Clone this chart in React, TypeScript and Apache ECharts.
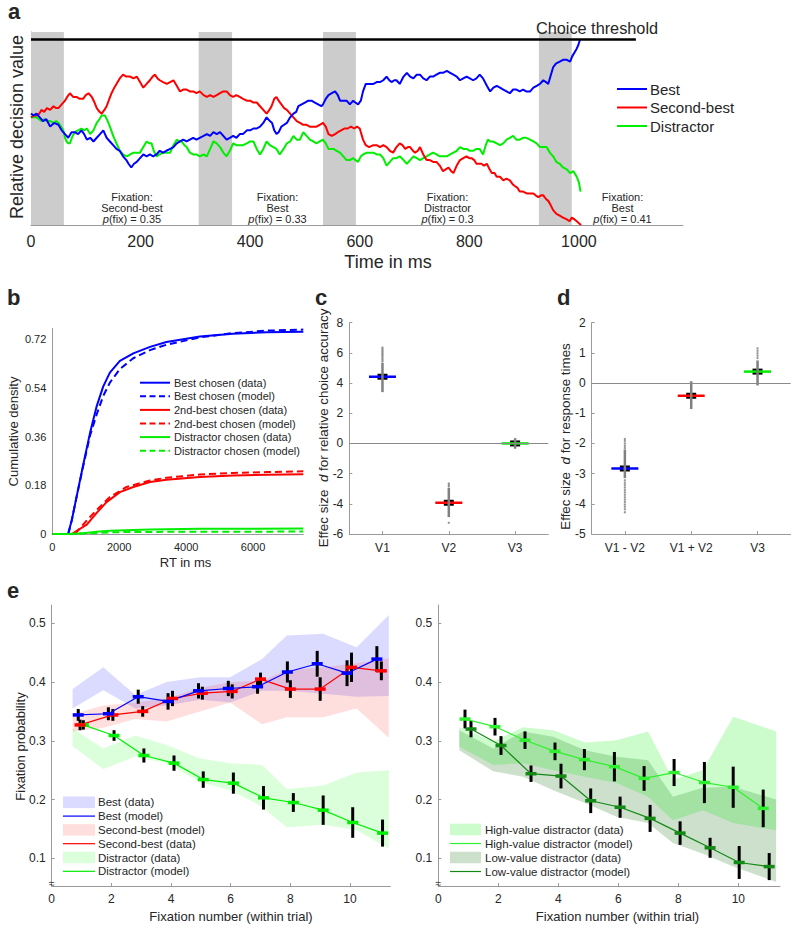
import React, { useEffect, useRef } from "react";
import * as echarts from "echarts";

const FONT = '"Liberation Sans", Arial, Helvetica, sans-serif';
const AXIS_COLOR = "#9a9a9a";
const TEXT_COLOR = "#262626";
const BLUE = "#0000ff";
const RED = "#ff0000";
const GREEN = "#00ee00";

// ---------------- Panel a : example trial ----------------
const aBest: number[][] = [
  [0,0.60],[5,0.59],[10,0.60],[16,0.58],[22,0.56],[28,0.57],[35,0.53],[42,0.55],[50,0.54],[56,0.51],[62,0.49],[68,0.47],[74,0.50],[80,0.50],[86,0.49],[92,0.51],[97,0.49],[102,0.46],[108,0.47],[114,0.45],[120,0.47],[126,0.49],[132,0.51],[138,0.47],[144,0.45],[150,0.43],[156,0.41],[162,0.40],[168,0.37],[174,0.35],[178,0.33],[183,0.31],[188,0.33],[193,0.34],[199,0.36],[205,0.38],[211,0.37],[217,0.38],[223,0.37],[229,0.38],[235,0.40],[241,0.39],[247,0.40],[254,0.41],[260,0.42],[266,0.44],[272,0.45],[278,0.46],[284,0.45],[290,0.46],[296,0.47],[302,0.46],[308,0.47],[315,0.48],[321,0.49],[327,0.48],[333,0.50],[339,0.49],[345,0.50],[351,0.48],[357,0.46],[363,0.47],[369,0.48],[375,0.47],[381,0.49],[387,0.49],[394,0.51],[400,0.51],[406,0.52],[412,0.52],[418,0.53],[424,0.55],[430,0.58],[436,0.56],[440,0.55],[444,0.51],[448,0.49],[452,0.50],[457,0.53],[462,0.54],[467,0.55],[473,0.58],[479,0.60],[484,0.61],[488,0.64],[494,0.65],[500,0.66],[506,0.67],[512,0.67],[518,0.66],[524,0.65],[530,0.64],[533,0.65],[538,0.68],[543,0.70],[549,0.71],[555,0.72],[560,0.70],[564,0.67],[570,0.67],[576,0.67],[582,0.65],[588,0.67],[592,0.66],[597,0.65],[602,0.67],[606,0.72],[611,0.76],[617,0.76],[625,0.76],[631,0.77],[637,0.77],[643,0.78],[649,0.80],[654,0.78],[658,0.77],[663,0.78],[667,0.78],[673,0.76],
  [680,0.80],[686,0.82],[692,0.80],[698,0.79],[704,0.81],[710,0.81],[716,0.79],[722,0.78],[728,0.80],[734,0.80],[740,0.81],[746,0.82],[752,0.82],[759,0.83],[765,0.82],[771,0.81],[777,0.80],[783,0.78],[789,0.79],[795,0.80],[801,0.79],[807,0.78],[813,0.79],[819,0.81],[825,0.79],[832,0.75],[838,0.72],[844,0.74],[850,0.75],[856,0.74],[862,0.73],[868,0.72],[874,0.71],[880,0.73],[886,0.73],[892,0.72],[898,0.73],[904,0.72],[911,0.72],[917,0.74],[923,0.75],[929,0.76],[935,0.78],[940,0.77],[944,0.76],[948,0.80],[953,0.85],[958,0.87],[965,0.88],[971,0.89],[978,0.89],[984,0.88],[988,0.91],[992,0.93],[996,0.95],[999,0.97],[1002,1.0]
];
const aSecond: number[][] = [
  [0,0.58],[5,0.59],[10,0.59],[15,0.60],[19,0.62],[24,0.61],[29,0.63],[35,0.62],[41,0.64],[46,0.63],[50,0.63],[56,0.65],[62,0.67],[66,0.69],[71,0.71],[77,0.69],[83,0.69],[89,0.68],[95,0.68],[100,0.70],[105,0.71],[111,0.69],[116,0.66],[120,0.63],[125,0.61],[129,0.60],[134,0.62],[138,0.64],[143,0.68],[147,0.71],[152,0.74],[156,0.76],[162,0.79],[168,0.81],[174,0.80],[181,0.80],[187,0.79],[193,0.80],[199,0.77],[205,0.74],[211,0.76],[217,0.78],[222,0.80],[226,0.81],[231,0.79],[235,0.78],[241,0.77],[248,0.76],[254,0.77],[260,0.78],[266,0.75],[272,0.72],[278,0.73],[284,0.73],[290,0.72],[296,0.72],[302,0.71],[308,0.72],[315,0.70],[321,0.69],[327,0.70],[333,0.69],[339,0.70],[345,0.71],[351,0.72],[357,0.72],[363,0.70],[369,0.69],[375,0.70],[381,0.69],[387,0.68],[394,0.67],[400,0.67],[406,0.66],[412,0.66],[418,0.64],[424,0.62],[430,0.60],[435,0.62],[439,0.64],[444,0.68],[448,0.69],[452,0.67],[457,0.65],[462,0.63],[467,0.62],[473,0.60],[479,0.58],[485,0.56],[491,0.55],[497,0.54],[503,0.54],[509,0.53],[515,0.53],[521,0.53],[527,0.54],[533,0.55],[538,0.53],[543,0.49],[549,0.48],[555,0.49],[560,0.50],[566,0.51],[572,0.52],[578,0.52],[584,0.53],[590,0.52],[595,0.53],[600,0.52],[606,0.46],[611,0.43],[617,0.42],[625,0.43],[631,0.43],[637,0.42],[643,0.43],[649,0.42],[655,0.40],[661,0.39],[667,0.42],[673,0.44],[678,0.43],[683,0.41],[688,0.42],[692,0.42],[697,0.40],[701,0.39],[706,0.40],[710,0.42],[716,0.38],[722,0.35],[728,0.35],[734,0.34],[740,0.34],[746,0.32],[752,0.29],[757,0.30],[762,0.31],[767,0.29],[771,0.28],[777,0.32],[783,0.35],[789,0.36],[795,0.37],[800,0.36],[804,0.36],[809,0.35],[813,0.33],[818,0.33],[822,0.33],[827,0.32],[832,0.33],[837,0.30],[841,0.28],[846,0.28],[850,0.26],[856,0.26],[862,0.24],[868,0.25],[874,0.24],[879,0.22],[883,0.21],[888,0.20],[892,0.18],[898,0.18],[905,0.17],[911,0.17],[917,0.17],[921,0.16],[926,0.15],[931,0.16],[935,0.16],[940,0.14],[944,0.13],[948,0.11],[953,0.08],[959,0.06],[965,0.05],[971,0.04],[978,0.03],[983,0.02],[987,0.04],[992,0.03],[996,0.02],[1000,0.01],[1004,0.0]
];
const aDistractor: number[][] = [
  [0,0.58],[5,0.58],[10,0.58],[15,0.57],[19,0.56],[24,0.57],[29,0.56],[35,0.56],[41,0.55],[46,0.56],[50,0.55],[55,0.53],[59,0.51],[62,0.47],[65,0.45],[68,0.44],[71,0.44],[76,0.48],[80,0.50],[86,0.51],[92,0.52],[97,0.51],[102,0.52],[108,0.49],[114,0.51],[120,0.55],[125,0.57],[129,0.59],[135,0.59],[140,0.56],[144,0.53],[150,0.48],[156,0.44],[162,0.40],[168,0.38],[175,0.37],[181,0.38],[187,0.39],[193,0.39],[199,0.39],[205,0.42],[211,0.45],[216,0.44],[220,0.44],[224,0.40],[229,0.37],[235,0.38],[241,0.39],[247,0.39],[254,0.39],[260,0.43],[266,0.46],[271,0.45],[275,0.45],[280,0.43],[284,0.42],[290,0.39],[296,0.38],[302,0.38],[308,0.37],[315,0.38],[321,0.37],[327,0.41],[333,0.45],[339,0.44],[345,0.42],[351,0.39],[357,0.37],[363,0.40],[369,0.44],[375,0.43],[381,0.43],[387,0.43],[394,0.44],[400,0.45],[406,0.45],[412,0.41],[418,0.38],[424,0.41],[430,0.45],[436,0.43],[442,0.42],[448,0.41],[454,0.38],[461,0.41],[467,0.44],[473,0.45],[479,0.48],[485,0.46],[491,0.46],[497,0.50],[503,0.48],[509,0.46],[515,0.45],[521,0.44],[527,0.45],[533,0.46],[538,0.44],[543,0.41],[548,0.41],[552,0.41],[558,0.40],[564,0.39],[570,0.37],[576,0.35],[582,0.35],[588,0.36],[592,0.35],[597,0.34],[602,0.37],[606,0.38],[613,0.39],[619,0.39],[625,0.39],[631,0.38],[637,0.38],[643,0.36],[649,0.32],[655,0.34],[661,0.36],[667,0.36],[673,0.37],
  [680,0.35],[686,0.33],[692,0.35],[698,0.37],[704,0.36],[710,0.35],[716,0.36],[722,0.37],[728,0.38],[734,0.39],[740,0.38],[746,0.37],[752,0.37],[759,0.37],[765,0.38],[771,0.39],[777,0.40],[783,0.42],[789,0.41],[795,0.41],[801,0.40],[807,0.40],[813,0.41],[819,0.41],[825,0.38],[830,0.43],[834,0.46],[838,0.45],[843,0.45],[850,0.44],[856,0.43],[862,0.44],[868,0.46],[874,0.47],[880,0.48],[886,0.46],[892,0.46],[898,0.47],[904,0.47],[911,0.46],[917,0.45],[923,0.44],[929,0.42],[935,0.42],[941,0.42],[947,0.39],[953,0.37],[959,0.34],[965,0.33],[971,0.31],[978,0.30],[984,0.28],[990,0.29],[996,0.26],[1000,0.23],[1003,0.18]
];
const aFixStart = [0, 306, 533, 927];
const aFixEnd = [60, 367, 593, 987];
const aThreshold = 1;
const aThresholdEnd = 1104;
const aXMax = 1190;
const aYMax = 1.04;
const aFixTarget = ["Second-best", "Best", "Distractor", "Best"];
const aFixProb = ["0.35", "0.33", "0.3", "0.41"];

// ---------------- Panel b : cumulative RT densities ----------------
const bBestData: number[][] = [[0,0],[470,0],[580,0.05],[730,0.14],[930,0.26],[1130,0.375],[1320,0.47],[1520,0.545],[1720,0.597],[2020,0.64],[2420,0.668],[2920,0.692],[3410,0.71],[4410,0.73],[5400,0.741],[6400,0.746],[7500,0.748]];
const bBestModel: number[][] = [[480,0],[580,0.05],[730,0.14],[930,0.255],[1130,0.365],[1320,0.44],[1520,0.51],[1720,0.56],[2020,0.61],[2420,0.65],[2920,0.68],[3410,0.70],[4410,0.727],[5400,0.743],[6400,0.752],[7500,0.756]];
const bSecondData: number[][] = [[0,0],[580,0],[1030,0.035],[1320,0.077],[1620,0.118],[2020,0.155],[2420,0.174],[2920,0.192],[3410,0.201],[4410,0.211],[5400,0.216],[6400,0.219],[7500,0.221]];
const bSecondModel: number[][] = [[680,0],[1030,0.05],[1320,0.088],[1720,0.137],[2220,0.174],[2920,0.198],[3410,0.208],[4410,0.22],[5400,0.226],[6400,0.229],[7500,0.232]];
const bDistData: number[][] = [[0,0],[500,0],[930,0.003],[1320,0.008],[1720,0.012],[2420,0.015],[2920,0.017],[4410,0.019],[7500,0.02]];
const bDistModel: number[][] = [[480,0],[1320,0.004],[2020,0.007],[3410,0.008],[7500,0.009]];
const bNames = ["Best chosen (data)", "Best chosen (model)", "2nd-best chosen (data)", "2nd-best chosen (model)", "Distractor chosen (data)", "Distractor chosen (model)"];
const bColors = [BLUE, BLUE, RED, RED, GREEN, GREEN];
const bXMax = 7500;
const bYMax = 0.76;

// ---------------- Panels c, d : effect sizes ----------------
const cCats = ["V1", "V2", "V3"];
const cMean = [4.42, -3.93, 0.0];
const cLo = [3.4, -4.88, -0.35];
const cHi = [5.35, -2.95, 0.35];
const cDots: number[][] = [[5.45,5.55,5.65,5.75,5.85,5.95,6.05,6.15,6.25,6.35], [-2.65,-2.75,-2.85,-5.25], []];
const dCats = ["V1 - V2", "V1 + V2", "V3"];
const dMean = [-2.83, -0.42, 0.38];
const dLo = [-3.15, -0.86, -0.08];
const dHi = [-2.2, 0.06, 0.75];
const dDots: number[][] = [[-1.85,-1.92,-2.0,-2.08,-2.15,-3.22,-3.3,-3.38,-3.46,-3.54,-3.62,-3.7,-3.78,-3.86,-3.94,-4.02,-4.1,-4.18,-4.28], [], [0.83,0.91,0.99,1.07,1.15]];
const cdColors = [BLUE, RED, GREEN];

// ---------------- Panel e (left) ----------------
const eBestX = [0.89,1.9,2.9,3.9,4.92,5.92,6.9,7.9,8.9,9.9,10.9];
const eBestY = [0.344,0.346,0.375,0.367,0.385,0.389,0.392,0.417,0.431,0.415,0.439];
const eBestErr = [0.010,0.011,0.012,0.014,0.013,0.013,0.012,0.018,0.022,0.022,0.022];
const eSecX = [0.95,2.05,3.05,4.05,5.05,6.05,7.0,8.0,9.0,10.05,11.05];
const eSecY = [0.327,0.344,0.350,0.372,0.381,0.384,0.405,0.388,0.388,0.425,0.419];
const eSecErr = [0.009,0.010,0.009,0.013,0.011,0.012,0.011,0.015,0.020,0.025,0.016];
const eDistX = [1.06,2.09,3.09,4.1,5.08,6.09,7.1,8.1,9.1,10.09,11.09];
const eDistY = [0.327,0.309,0.275,0.262,0.234,0.228,0.203,0.195,0.182,0.161,0.143];
const eDistErr = [0.008,0.009,0.012,0.013,0.014,0.018,0.020,0.016,0.025,0.026,0.023];
const eBandX = [0.7,1.73,2.8,3.85,4.97,5.98,7.05,7.88,9.1,10.22,11.3];
const eBestUp = [0.388,0.425,0.378,0.400,0.408,0.408,0.439,0.479,0.482,0.459,0.514];
const eBestLo = [0.355,0.386,0.355,0.360,0.370,0.365,0.385,0.385,0.380,0.375,0.376];
const eSecUp = [0.345,0.360,0.365,0.372,0.390,0.400,0.402,0.420,0.425,0.432,0.440];
const eSecLo = [0.316,0.322,0.337,0.333,0.350,0.365,0.328,0.340,0.340,0.355,0.305];
const eDistUp = [0.321,0.287,0.309,0.293,0.270,0.262,0.259,0.218,0.224,0.246,0.250];
const eDistLo = [0.291,0.252,0.273,0.262,0.230,0.216,0.188,0.153,0.157,0.148,0.117];

// ---------------- Panel e (right) ----------------
const eHighX = [0.89,1.89,2.89,3.89,4.87,5.87,6.86,7.86,8.87,9.83,10.83];
const eHighY = [0.337,0.324,0.301,0.282,0.268,0.256,0.236,0.246,0.229,0.221,0.185];
const eHighErr = [0.016,0.015,0.015,0.015,0.018,0.025,0.021,0.023,0.035,0.035,0.032];
const eLowX = [1.09,2.09,3.09,4.09,5.08,6.06,7.06,8.06,9.06,10.03,11.03];
const eLowY = [0.320,0.292,0.244,0.240,0.198,0.187,0.168,0.143,0.118,0.093,0.086];
const eLowErr = [0.014,0.016,0.014,0.021,0.021,0.018,0.023,0.020,0.017,0.028,0.023];
const eRBandX = [0.7,1.83,2.83,3.83,4.89,5.94,6.99,7.82,8.82,9.83,11.26];
const eHighUp = [0.323,0.299,0.323,0.318,0.297,0.301,0.316,0.234,0.250,0.341,0.316];
const eHighLo = [0.290,0.259,0.262,0.250,0.239,0.228,0.205,0.165,0.182,0.160,0.148];
const eLowUp = [0.318,0.287,0.316,0.307,0.284,0.273,0.267,0.205,0.220,0.222,0.200];
const eLowLo = [0.284,0.248,0.239,0.216,0.194,0.171,0.160,0.126,0.108,0.086,0.060];
const eXTicks = [0, 2, 4, 6, 8, 10];
const eYTicks = [0.1, 0.2, 0.3, 0.4, 0.5];
const eYMin = 0.053;
const eYMax = 0.531;

const BAND_BLUE = "rgba(0,0,255,0.14)";
const BAND_RED = "rgba(255,0,0,0.13)";
const BAND_GREEN = "rgba(0,255,0,0.14)";
const BAND_HIGH = "rgba(0,235,0,0.2)";
const BAND_LOW = "rgba(0,100,0,0.2)";
const HIGH_COLOR = "#2ef02e";
const LOW_COLOR = "#138a13";

const axisLine = { show: true, onZero: false, lineStyle: { color: AXIS_COLOR, width: 1 } };
const lbl = (size: number, extra: any = {}) => ({ color: TEXT_COLOR, fontFamily: FONT, fontSize: size, ...extra });
const inTick = (extra: any = {}) => ({ show: true, inside: true, length: 3, lineStyle: { color: AXIS_COLOR }, ...extra });
const plain = (v: number) => String(v);

function bandSeries(xi: number, xs: number[], up: number[], lo: number[], color: string, name: string) {
  return {
    type: "custom", name, xAxisIndex: xi, yAxisIndex: xi, z: 1, silent: true, clip: false,
    data: [[xs[0], lo[0]]],
    renderItem: (_p: any, api: any) => {
      const pts: number[][] = [];
      xs.forEach((x, i) => pts.push(api.coord([x, up[i]])));
      for (let i = xs.length - 1; i >= 0; i--) pts.push(api.coord([xs[i], lo[i]]));
      return { type: "polygon", shape: { points: pts }, style: { fill: color } };
    },
  };
}
function errSeries(xi: number, xs: number[], ys: number[], es: number[]) {
  return {
    type: "custom", xAxisIndex: xi, yAxisIndex: xi, z: 2, silent: true,
    data: xs.map((x, i) => [x, ys[i], es[i]]),
    renderItem: (_p: any, api: any) => {
      const x = api.value(0), y = api.value(1), e = api.value(2);
      const a = api.coord([x, y + e]);
      const b = api.coord([x, y - e]);
      return { type: "line", shape: { x1: a[0], y1: a[1], x2: b[0], y2: b[1] }, style: { stroke: "#000", lineWidth: 3 } };
    },
  };
}
function markerLine(xi: number, xs: number[], ys: number[], color: string, name: string) {
  return {
    type: "line", name, xAxisIndex: xi, yAxisIndex: xi, z: 3, silent: true,
    data: xs.map((x, i) => [x, ys[i]]),
    symbol: "rect", symbolSize: [11, 3.5], showSymbol: true,
    itemStyle: { color }, lineStyle: { color, width: 1.2 },
  };
}
function summarySeries(xi: number, mean: number[], lo: number[], hi: number[]) {
  return {
    type: "custom", xAxisIndex: xi, yAxisIndex: xi, z: 3, silent: true,
    data: mean.map((m, i) => [i, m, lo[i], hi[i]]),
    renderItem: (p: any, api: any) => {
      const i = api.value(0);
      const pm = api.coord([i, api.value(1)]);
      const pl = api.coord([i, api.value(2)]);
      const ph = api.coord([i, api.value(3)]);
      return {
        type: "group",
        children: [
          { type: "rect", shape: { x: pm[0] - 5, y: pm[1] - 3, width: 10, height: 6 }, style: { fill: "#000" } },
          { type: "line", shape: { x1: pm[0] - 13.5, y1: pm[1], x2: pm[0] + 13.5, y2: pm[1] }, style: { stroke: cdColors[p.dataIndex], lineWidth: 2.5 } },
          { type: "line", shape: { x1: pl[0], y1: pl[1], x2: ph[0], y2: ph[1] }, style: { stroke: "#808080", lineWidth: 2.5 } },
        ],
      };
    },
  };
}
function dotSeries(xi: number, dots: number[][]) {
  const pts: number[][] = [];
  dots.forEach((arr, i) => arr.forEach((v) => pts.push([i, v])));
  return {
    type: "scatter", xAxisIndex: xi, yAxisIndex: xi, z: 2, silent: true,
    data: pts, symbolSize: 2.4, itemStyle: { color: "#808080" },
    markLine: {
      silent: true, symbol: ["none", "none"], label: { show: false },
      lineStyle: { color: "#8a8a8a", width: 1.2, type: "solid" }, data: [{ yAxis: 0 }],
    },
  };
}

function T(text: string, x: number, y: number, size: number, o: any = {}) {
  return {
    type: "text", x, y, rotation: o.rot || 0, silent: true, z: 100,
    style: {
      text, fontSize: size, fontFamily: FONT, fontWeight: o.bold ? "bold" : "normal",
      fill: TEXT_COLOR, align: o.align || "center", verticalAlign: "middle",
      rich: o.rich,
    },
  };
}
function Ln(x1: number, y1: number, x2: number, y2: number, stroke: string, w: number, dash?: number[]) {
  return { type: "line", silent: true, z: 100, shape: { x1, y1, x2, y2 }, style: { stroke, lineWidth: w, lineDash: dash } };
}
function Rc(x: number, y: number, w: number, h: number, fill: string) {
  return { type: "rect", silent: true, z: 100, shape: { x, y, width: w, height: h }, style: { fill } };
}
const italic = (size: number) => ({ i: { fontStyle: "italic", fontSize: size, fontFamily: FONT, fill: TEXT_COLOR } });

function buildOption(): any {
  const graphic: any[] = [];
  graphic.push(T("a", 8, 11.5, 22, { bold: true, align: "left" }));
  graphic.push(T("b", 7, 297.5, 22, { bold: true, align: "left" }));
  graphic.push(T("c", 315, 297, 22, { bold: true, align: "left" }));
  graphic.push(T("d", 557, 297.5, 22, { bold: true, align: "left" }));
  graphic.push(T("e", 7, 590, 22, { bold: true, align: "left" }));

  graphic.push(T("Relative decision value", 16.5, 127, 18, { rot: Math.PI / 2 }));
  graphic.push(T("Time in ms", 388, 262, 18));
  graphic.push(T("Choice threshold", 597, 28, 16.3));
  const aLegend = [["Best", BLUE], ["Second-best", RED], ["Distractor", GREEN]];
  const aLegY = [89, 107.5, 126];
  aLegend.forEach(([n, c], i) => {
    graphic.push(Ln(617, aLegY[i], 647, aLegY[i], c, 2));
    graphic.push(T(n, 650, aLegY[i], 15, { align: "left" }));
  });
  const aAnnX = [132, 277.5, 447.5, 622.5];
  aAnnX.forEach((x, i) => {
    graphic.push(T("Fixation:", x, 196.8, 11));
    graphic.push(T(aFixTarget[i], x, 207.9, 11));
    graphic.push(T("{i|p}(fix) = " + aFixProb[i], x, 219, 11, { rich: italic(11) }));
  });

  graphic.push(T("Cumulative density", 13.5, 431.5, 13, { rot: Math.PI / 2 }));
  graphic.push(T("RT in ms", 185.5, 562.5, 13));
  bNames.forEach((n, i) => {
    const y = 382.7 + i * 13.6;
    graphic.push(Ln(140, y, 170, y, bColors[i], 2, i % 2 === 1 ? [6, 3.5] : undefined));
    graphic.push(T(n, 174, y, 11, { align: "left" }));
  });

  graphic.push(T("Effec size  {i|d} for relative choice accuracy", 323, 428, 13.4, { rot: Math.PI / 2, rich: italic(13.4) }));
  graphic.push(T("Effec size  {i|d} for response times", 565, 436.5, 13.4, { rot: Math.PI / 2, rich: italic(13.4) }));

  graphic.push(T("Fixation probability", 20, 746.5, 13, { rot: Math.PI / 2 }));
  graphic.push(T("Fixation number (within trial)", 231, 916, 13));
  graphic.push(T("Fixation number (within trial)", 617.5, 916, 13));
  graphic.push(T("\u2248", 51.7, 883.5, 10));
  graphic.push(T("\u2248", 438.3, 883.5, 10));

  const eLeftLegend: any[] = [
    ["rect", BAND_BLUE, "Best (data)"],
    ["line", BLUE, "Best (model)"],
    ["rect", BAND_RED, "Second-best (model)"],
    ["line", RED, "Second-best (data)"],
    ["rect", BAND_GREEN, "Distractor (data)"],
    ["line", GREEN, "Distractor (model)"],
  ];
  eLeftLegend.forEach(([k, c, n], i) => {
    const y = 802.3 + i * 13.8;
    if (k === "rect") graphic.push(Rc(63, y - 5.8, 32, 11.6, c));
    else graphic.push(Ln(63, y, 95, y, c, 1.2));
    graphic.push(T(n, 98, y, 11.5, { align: "left" }));
  });
  const eRightLegend: any[] = [
    ["rect", BAND_HIGH, "High-value distractor (data)"],
    ["line", HIGH_COLOR, "High-value distractor (model)"],
    ["rect", BAND_LOW, "Low-value distractor (data)"],
    ["line", LOW_COLOR, "Low-value distractor (model)"],
  ];
  eRightLegend.forEach(([k, c, n], i) => {
    const y = 829.5 + i * 14;
    if (k === "rect") graphic.push(Rc(450, y - 5.8, 31, 11.6, c));
    else graphic.push(Ln(450, y, 481, y, c, 1.2));
    graphic.push(T(n, 485, y, 11.5, { align: "left" }));
  });

  const series: any[] = [];
  series.push({
    type: "custom", xAxisIndex: 0, yAxisIndex: 0, z: 1, silent: true,
    data: aFixStart.map((s, i) => [s, aFixEnd[i], 0]),
    encode: { x: [0, 1], y: 2 },
    renderItem: (_p: any, api: any) => {
      const a = api.coord([api.value(0), aYMax]);
      const b = api.coord([api.value(1), 0]);
      return { type: "rect", shape: { x: a[0], y: a[1], width: b[0] - a[0], height: b[1] - a[1] }, style: { fill: "#cccccc" } };
    },
  });
  series.push({
    type: "line", xAxisIndex: 0, yAxisIndex: 0, z: 4, silent: true, symbol: "none",
    data: [[0, aThreshold], [aThresholdEnd, aThreshold]], lineStyle: { color: "#000", width: 2.5 },
  });
  [[aDistractor, GREEN], [aSecond, RED], [aBest, BLUE]].forEach(([d, c]: any) => {
    series.push({ type: "line", xAxisIndex: 0, yAxisIndex: 0, z: 3, silent: true, symbol: "none", data: d, lineStyle: { color: c, width: 2 } });
  });
  const bData = [bBestData, bBestModel, bSecondData, bSecondModel, bDistData, bDistModel];
  bData.forEach((d, i) => {
    series.push({
      type: "line", name: bNames[i], xAxisIndex: 1, yAxisIndex: 1, z: 3, silent: true, symbol: "none", data: d,
      lineStyle: { color: bColors[i], width: 2, type: i % 2 === 1 ? [7, 4] : "solid" },
    });
  });
  series.push(dotSeries(2, cDots));
  series.push(summarySeries(2, cMean, cLo, cHi));
  series.push(dotSeries(3, dDots));
  series.push(summarySeries(3, dMean, dLo, dHi));
  series.push(bandSeries(4, eBandX, eBestUp, eBestLo, BAND_BLUE, "Best (data)"));
  series.push(bandSeries(4, eBandX, eSecUp, eSecLo, BAND_RED, "Second-best (model)"));
  series.push(bandSeries(4, eBandX, eDistUp, eDistLo, BAND_GREEN, "Distractor (data)"));
  series.push(errSeries(4, eBestX, eBestY, eBestErr));
  series.push(errSeries(4, eSecX, eSecY, eSecErr));
  series.push(errSeries(4, eDistX, eDistY, eDistErr));
  series.push(markerLine(4, eDistX, eDistY, GREEN, "Distractor (model)"));
  series.push(markerLine(4, eSecX, eSecY, RED, "Second-best (data)"));
  series.push(markerLine(4, eBestX, eBestY, BLUE, "Best (model)"));
  series.push(bandSeries(5, eRBandX, eLowUp, eLowLo, BAND_LOW, "Low-value distractor (data)"));
  series.push(bandSeries(5, eRBandX, eHighUp, eHighLo, BAND_HIGH, "High-value distractor (data)"));
  series.push(errSeries(5, eHighX, eHighY, eHighErr));
  series.push(errSeries(5, eLowX, eLowY, eLowErr));
  series.push(markerLine(5, eHighX, eHighY, HIGH_COLOR, "High-value distractor (model)"));
  series.push(markerLine(5, eLowX, eLowY, LOW_COLOR, "Low-value distractor (model)"));

  const gridBase = { containLabel: false, outerBoundsMode: "none" };
  return {
    animation: false,
    backgroundColor: "#ffffff",
    textStyle: { fontFamily: FONT },
    grid: [
      { ...gridBase, left: 31, top: 32, width: 652, height: 193 },
      { ...gridBase, left: 52.3, top: 328.5, width: 251, height: 205.5 },
      { ...gridBase, left: 349.3, top: 322.7, width: 199, height: 211.3 },
      { ...gridBase, left: 591.7, top: 322.7, width: 199, height: 211.3 },
      { ...gridBase, left: 51.7, top: 605, width: 338.6, height: 281 },
      { ...gridBase, left: 438.3, top: 605, width: 341.7, height: 281 },
    ],
    xAxis: [
      { gridIndex: 0, type: "value", min: 0, max: aXMax, interval: 200, axisLine, axisTick: { show: false }, splitLine: { show: false },
        axisLabel: lbl(16, { margin: 8, showMaxLabel: false, formatter: plain }) },
      { gridIndex: 1, type: "value", min: 0, max: bXMax, interval: 2000, axisLine, axisTick: { show: false }, splitLine: { show: false },
        axisLabel: lbl(11, { margin: 7, showMaxLabel: false, formatter: plain }) },
      { gridIndex: 2, type: "category", data: cCats, axisLine, axisTick: inTick({ alignWithLabel: true }), splitLine: { show: false },
        axisLabel: lbl(12, { margin: 8 }) },
      { gridIndex: 3, type: "category", data: dCats, axisLine, axisTick: inTick({ alignWithLabel: true }), splitLine: { show: false },
        axisLabel: lbl(12, { margin: 8 }) },
      { gridIndex: 4, type: "value", min: 0, max: 11.35, axisLine, axisTick: inTick({ customValues: eXTicks }), splitLine: { show: false },
        axisLabel: lbl(12, { margin: 7, customValues: eXTicks, formatter: plain }) },
      { gridIndex: 5, type: "value", min: 0, max: 11.39, axisLine, axisTick: inTick({ customValues: eXTicks }), splitLine: { show: false },
        axisLabel: lbl(12, { margin: 7, customValues: eXTicks, formatter: plain }) },
    ],
    yAxis: [
      { gridIndex: 0, type: "value", min: 0, max: aYMax, axisLine, axisTick: { show: false }, splitLine: { show: false }, axisLabel: { show: false } },
      { gridIndex: 1, type: "value", min: 0, max: bYMax, interval: 0.18, axisLine, axisTick: { show: false }, splitLine: { show: false },
        axisLabel: lbl(11, { margin: 6, showMaxLabel: false, formatter: (v: number) => (v === 0 ? "0" : v.toFixed(2)) }) },
      { gridIndex: 2, type: "value", min: -6, max: 8, interval: 2, axisLine, axisTick: inTick(), splitLine: { show: false },
        axisLabel: lbl(12, { margin: 6 }) },
      { gridIndex: 3, type: "value", min: -5, max: 2, interval: 1, axisLine, axisTick: inTick(), splitLine: { show: false },
        axisLabel: lbl(12, { margin: 6 }) },
      { gridIndex: 4, type: "value", min: eYMin, max: eYMax, axisLine, axisTick: inTick({ customValues: eYTicks }), splitLine: { show: false },
        axisLabel: lbl(12, { margin: 6, customValues: eYTicks, formatter: (v: number) => v.toFixed(1) }) },
      { gridIndex: 5, type: "value", min: eYMin, max: eYMax, axisLine, axisTick: inTick({ customValues: eYTicks }), splitLine: { show: false },
        axisLabel: lbl(12, { margin: 6, customValues: eYTicks, formatter: (v: number) => v.toFixed(1) }) },
    ],
    series,
    graphic,
  };
}

export default function App() {
  const ref = useRef<HTMLDivElement>(null);
  useEffect(() => {
    document.body.style.margin = "0";
    const chart = echarts.init(ref.current as HTMLDivElement, null, { renderer: "svg" });
    chart.setOption(buildOption());
    return () => chart.dispose();
  }, []);
  return <div ref={ref} style={{ width: 800, height: 931 }} />;
}
